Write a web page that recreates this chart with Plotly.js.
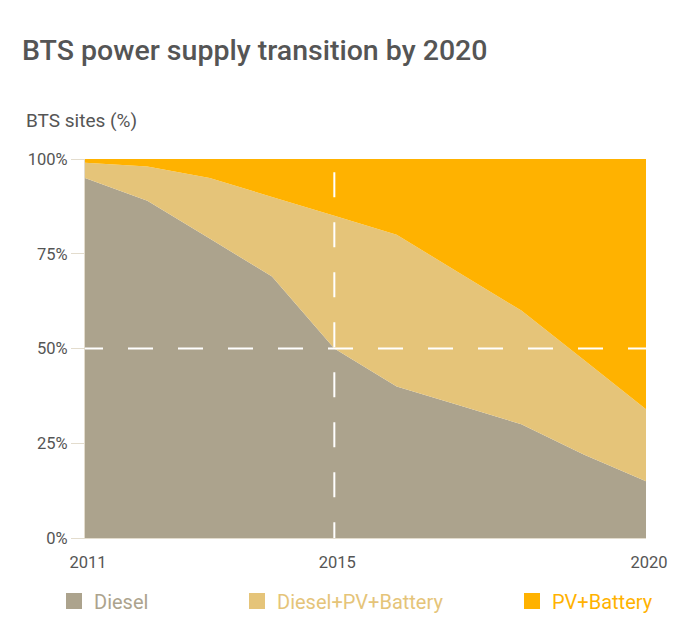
<!DOCTYPE html>
<html>
<head>
<meta charset="utf-8">
<script src="https://cdn.plot.ly/plotly-3.0.1.min.js"></script>
<style>html,body{margin:0;padding:0;background:#fff;}#chart{width:688px;height:625px;}</style>
</head>
<body>
<div id="chart"></div>
<script>
var years = [2011, 2012, 2013, 2014, 2015, 2016, 2017, 2018, 2019, 2020];
var diesel = [95, 89, 79, 69, 50, 40, 35, 30, 22, 15];
var hybrid = [4, 9, 16, 21, 35, 40, 35, 30, 25, 19];
var pvBattery = [1, 2, 5, 10, 15, 20, 30, 40, 53, 66];
var seriesNames = ['Diesel', 'Diesel+PV+Battery', 'PV+Battery'];
var yTicks = [0, 25, 50, 75, 100];
var xTicks = [2011, 2015, 2020];

var colors = ['#aca38d', '#e5c479', '#ffb200'];
var values = [diesel, hybrid, pvBattery];
var legendIds = ['legend', 'legend2', 'legend3'];

var traces = [];
values.forEach(function (v, i) {
  traces.push({
    x: years, y: v, type: 'scatter', mode: 'none', stackgroup: 'one',
    fillcolor: colors[i], line: {width: 0}, name: seriesNames[i],
    showlegend: false, hoverinfo: 'skip'
  });
});
values.forEach(function (v, i) {
  traces.push({
    x: [null], y: [null], type: 'scatter', mode: 'markers', name: seriesNames[i],
    marker: {symbol: 'square', size: 16, color: colors[i]},
    legend: legendIds[i], showlegend: true
  });
});

var lineCol = '#e3dccd';
function lg(px, c) {
  return {orientation: 'h', xref: 'container', yref: 'container', x: px / 688, y: 1 - 601 / 625,
    xanchor: 'left', yanchor: 'middle', bgcolor: 'rgba(0,0,0,0)', borderwidth: 0, itemwidth: 30,
    font: {family: 'Roboto', size: 20, color: c}};
}

var layout = {
  width: 688, height: 625,
  margin: {l: 85, r: 42, t: 159, b: 87},
  paper_bgcolor: '#fff', plot_bgcolor: '#fff',
  font: {family: 'Roboto', color: '#555'},
  title: {text: 'BTS power supply transition by 2020', x: 22 / 688, xref: 'container', xanchor: 'left',
    y: 1 - 50 / 625, yref: 'container', yanchor: 'middle',
    font: {family: 'Roboto', size: 28.5, color: '#555', weight: 500}},
  xaxis: {range: [2011, 2020], tickvals: xTicks, ticktext: xTicks.map(String), showgrid: false, zeroline: false,
    showline: true, linecolor: lineCol, linewidth: 1, ticks: '', ticklabelstandoff: 9, ticklabelshift: 3,
    tickfont: {size: 16.5, color: '#555'}},
  yaxis: {range: [0, 100], tickvals: yTicks, ticktext: yTicks.map(function (t) { return t + '%'; }),
    showgrid: false, zeroline: false, showline: true, linecolor: lineCol, linewidth: 1,
    ticks: 'outside', ticklen: 13, tickcolor: lineCol, tickwidth: 1,
    tickfont: {size: 16.5, color: '#555'}},
  annotations: [{text: 'BTS sites (%)', xref: 'paper', yref: 'paper', x: (24 - 85) / 561, y: (538 - 121) / 379,
    xanchor: 'left', yanchor: 'middle', showarrow: false, font: {family: 'Roboto', size: 19, color: '#555'}}],
  shapes: [
    {type: 'line', xref: 'x', yref: 'y', x0: 2011 - 7 / 62.33, x1: 2020, y0: 50, y1: 50, layer: 'above',
      line: {color: '#fff', width: 2, dash: '25px,25px'}},
    {type: 'line', xref: 'x', yref: 'y', x0: 2015, x1: 2015, y0: 96.5, y1: 0, layer: 'above',
      line: {color: '#fff', width: 2, dash: '25px,25px'}}
  ],
  legend: lg(54, colors[0]),
  legend2: lg(237, colors[1]),
  legend3: lg(512, colors[2]),
  hovermode: false
};

Plotly.newPlot('chart', traces, layout, {displayModeBar: false, staticPlot: true});
</script>
</body>
</html>
